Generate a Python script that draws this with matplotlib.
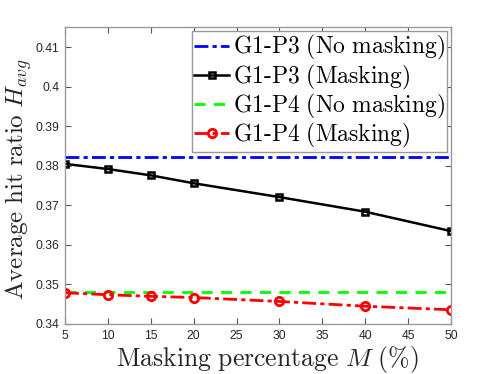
import matplotlib.pyplot as plt

plt.rcParams['mathtext.fontset'] = 'cm'

# datos
M = [5, 10, 15, 20, 30, 40, 50]
p3_no_mask = 0.3822
p4_no_mask = 0.3482
p3_mask = [0.3805, 0.3792, 0.3776, 0.3756, 0.3721, 0.3684, 0.3635]
p4_mask = [0.3479, 0.3474, 0.3470, 0.3467, 0.3457, 0.3445, 0.3436]

fig = plt.figure(figsize=(4.98, 3.74), dpi=100)
ax = fig.add_axes([0.1305, 0.1337, 0.775, 0.7928])

ax.plot([M[0], M[-1]], [p3_no_mask, p3_no_mask], color="#0000ff", lw=2,
        linestyle=(0, (5, 1.5, 1.5, 1.5)), label=r"$\mathrm{G1\text{-}P3\ (No\ masking)}$")
ax.plot(M, p3_mask, color="black", lw=1.8, marker="s", ms=5, mfc="none", mew=1.8,
        label=r"$\mathrm{G1\text{-}P3\ (Masking)}$")
ax.plot([M[0], M[-1]], [p4_no_mask, p4_no_mask], color="#00ff00", lw=2,
        linestyle=(0, (4, 3)), label=r"$\mathrm{G1\text{-}P4\ (No\ masking)}$")
ax.plot(M, p4_mask, color="#ff0000", lw=2, linestyle=(0, (5, 1.5, 1.5, 1.5)),
        marker="o", ms=6, mfc="none", mew=2, label=r"$\mathrm{G1\text{-}P4\ (Masking)}$")

ax.set_xlim(5, 50)
ax.set_ylim(0.34, 0.415)
ax.set_xticks(range(5, 51, 5))
ax.set_yticks([0.34, 0.35, 0.36, 0.37, 0.38, 0.39, 0.40, 0.41])
ax.set_yticklabels(["0.34", "0.35", "0.36", "0.37", "0.38", "0.39", "0.4", "0.41"])
ax.tick_params(direction="in", top=True, right=True, length=4, width=0.8, pad=4,
               color="#555555", labelcolor="#262626", labelsize=8.7)
for lab in ax.get_xticklabels() + ax.get_yticklabels():
    lab.set_family("Liberation Sans")
for s in ax.spines.values():
    s.set_color("#999999")
    s.set_linewidth(1)

ax.set_xlabel(r"$\mathrm{Masking\ percentage}\ M\ \mathrm{(\%)}$", fontsize=18.5, color="#262626")
ax.set_ylabel(r"$\mathrm{Average\ hit\ ratio}\ H_{avg}$", fontsize=18, color="#262626")
ax.xaxis.set_label_coords(0.523, -0.066)
ax.yaxis.set_label_coords(-0.08, 0.49)

leg = ax.legend(loc="upper right", fontsize=17, handlelength=1.5, handletextpad=0.15,
                borderpad=0.1, labelspacing=0.0, borderaxespad=0.15, fancybox=False,
                framealpha=1, edgecolor="#999999")
leg.get_frame().set_linewidth(1)

plt.savefig("out.png", dpi=100)
